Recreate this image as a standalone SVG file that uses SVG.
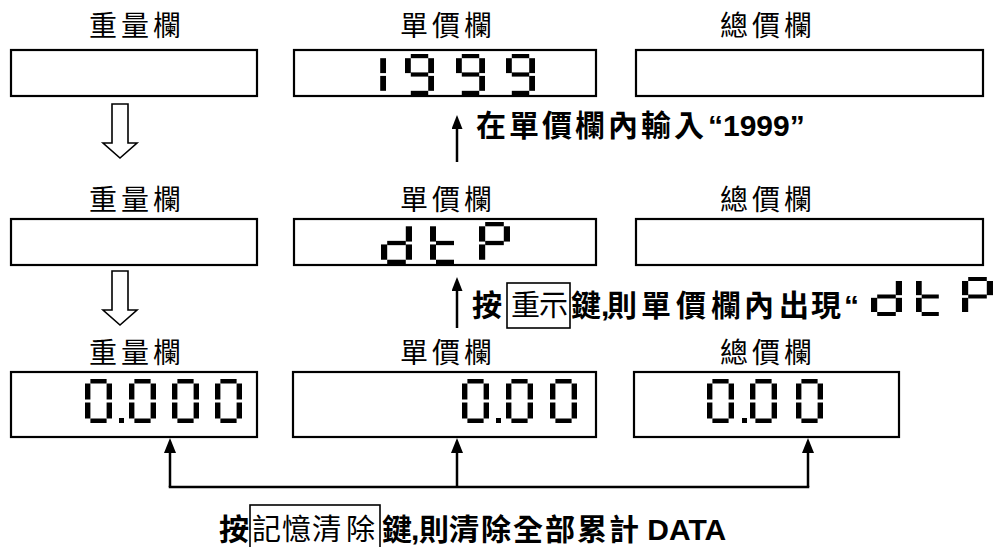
<svg xmlns="http://www.w3.org/2000/svg" xmlns:xlink="http://www.w3.org/1999/xlink" width="996" height="547" viewBox="0 0 996 547">
<style>
.box{fill:#fff;stroke:#000;stroke-width:2.2}
.kbox{fill:none;stroke:#000;stroke-width:1.6}
.lbl{font-family:"Noto Sans CJK TC","Noto Sans CJK SC",sans-serif;font-size:28px;fill:#000}
.ins{font-family:"Liberation Sans","Noto Sans CJK TC",sans-serif;font-weight:bold;font-size:30px;fill:#000}
.key{font-family:"Noto Sans CJK TC",sans-serif;font-size:29px;fill:#000}
.hol{fill:#fff;stroke:#000;stroke-width:1.6}
.con{stroke:#000;stroke-width:2.5;fill:none}
.seg{fill:#000}
</style>
<defs>
<marker id="ah" markerUnits="userSpaceOnUse" viewBox="0 0 14 11" refX="6" refY="5.5" markerWidth="14" markerHeight="11" orient="auto"><path d="M0,0 L14,5.5 L0,11 Z" fill="#000"/></marker>
<marker id="ah2" markerUnits="userSpaceOnUse" viewBox="0 0 15 12" refX="7" refY="6" markerWidth="15" markerHeight="12" orient="auto"><path d="M0,0 L15,6 L0,12 Z" fill="#000"/></marker>
<g id="sa"><rect x="6" y="0" width="18" height="4.5"/></g>
<g id="sb"><rect x="24" y="4.5" width="6" height="16"/></g>
<g id="sc"><rect x="24" y="23.5" width="6" height="16"/></g>
<g id="sd"><rect x="6" y="39.5" width="18" height="4.5"/></g>
<g id="se"><rect x="0" y="23.5" width="6" height="16"/></g>
<g id="sf"><rect x="0" y="4.5" width="6" height="16"/></g>
<g id="sg"><rect x="6" y="19.75" width="18" height="4.5"/></g>
<g id="g0"><use xlink:href="#sa"/><use xlink:href="#sb"/><use xlink:href="#sc"/><use xlink:href="#sd"/><use xlink:href="#se"/><use xlink:href="#sf"/></g>
<g id="g1"><use xlink:href="#sb"/><use xlink:href="#sc"/></g>
<g id="g9"><use xlink:href="#sa"/><use xlink:href="#sb"/><use xlink:href="#sc"/><use xlink:href="#sd"/><use xlink:href="#sf"/><use xlink:href="#sg"/></g>
<g id="gd"><use xlink:href="#sb"/><use xlink:href="#sc"/><use xlink:href="#sd"/><use xlink:href="#se"/><use xlink:href="#sg"/></g>
<g id="gt"><use xlink:href="#sd"/><use xlink:href="#se"/><use xlink:href="#sf"/><use xlink:href="#sg"/></g>
<g id="gP"><use xlink:href="#sa"/><use xlink:href="#sb"/><use xlink:href="#se"/><use xlink:href="#sf"/><use xlink:href="#sg"/></g>
</defs>
<rect width="996" height="547" fill="#fff"/>

<!-- Row 1 -->
<g id="r1-weight">
<text class="lbl" x="89 121 153" y="36">重量欄</text>
<rect class="box" x="11" y="50" width="246" height="46"/>
</g>
<g id="r1-unit">
<text class="lbl" x="400 432 464" y="36">單價欄</text>
<rect class="box" x="294" y="50" width="302" height="46"/>
<g class="seg">
<use xlink:href="#g1" transform="translate(357,54) scale(0.967,0.932)"/>
<use xlink:href="#g9" transform="translate(405,54) scale(0.967,0.932)"/>
<use xlink:href="#g9" transform="translate(456,54) scale(0.967,0.932)"/>
<use xlink:href="#g9" transform="translate(506,54) scale(0.967,0.932)"/>
</g>
</g>
<g id="r1-total">
<text class="lbl" x="720 752 784" y="36">總價欄</text>
<rect class="box" x="636" y="50" width="347" height="46"/>
</g>

<!-- Row 2 -->
<g id="r2-weight">
<text class="lbl" x="89 121 153" y="210">重量欄</text>
<rect class="box" x="11" y="219" width="246" height="46"/>
</g>
<g id="r2-unit">
<text class="lbl" x="400 432 464" y="210">單價欄</text>
<rect class="box" x="294" y="219" width="302" height="46"/>
<g class="seg">
<use xlink:href="#gd" transform="translate(381,222) scale(1.033,0.955)"/>
<use xlink:href="#gt" transform="translate(430,222) scale(1.0,0.955)"/>
<use xlink:href="#gP" transform="translate(479,222) scale(1.033,0.955)"/>
</g>
</g>
<g id="r2-total">
<text class="lbl" x="720 752 784" y="210">總價欄</text>
<rect class="box" x="636" y="219" width="347" height="46"/>
</g>

<!-- Row 3 -->
<g id="r3-weight">
<text class="lbl" x="89 121 153" y="363">重量欄</text>
<rect class="box" x="11" y="372" width="246" height="65"/>
<g class="seg">
<use xlink:href="#g0" transform="translate(85,379) scale(0.9,1)"/>
<rect x="119" y="418" width="5" height="5"/>
<use xlink:href="#g0" transform="translate(129,379) scale(0.9,1)"/>
<use xlink:href="#g0" transform="translate(172,379) scale(0.9,1)"/>
<use xlink:href="#g0" transform="translate(215,379) scale(0.9,1)"/>
</g>
</g>
<g id="r3-unit">
<text class="lbl" x="400 432 464" y="363">單價欄</text>
<rect class="box" x="293" y="372" width="303" height="65"/>
<g class="seg">
<use xlink:href="#g0" transform="translate(462,379) scale(0.9,1)"/>
<rect x="496" y="418" width="5" height="5"/>
<use xlink:href="#g0" transform="translate(506,379) scale(0.9,1)"/>
<use xlink:href="#g0" transform="translate(550,379) scale(0.9,1)"/>
</g>
</g>
<g id="r3-total">
<text class="lbl" x="720 752 784" y="363">總價欄</text>
<rect class="box" x="634" y="372" width="265" height="65"/>
<g class="seg">
<use xlink:href="#g0" transform="translate(707,379) scale(0.9,1)"/>
<rect x="742" y="418" width="5" height="5"/>
<use xlink:href="#g0" transform="translate(750,379) scale(0.9,1)"/>
<use xlink:href="#g0" transform="translate(796,379) scale(0.9,1)"/>
</g>
</g>

<!-- Instructions -->
<g id="note1">
<text class="ins" x="476 509 542 575 608 641 674 708" y="136">在單價欄內輸入“1999”</text>
</g>
<g id="note2">
<text class="ins" x="472" y="316">按</text>
<rect class="kbox" x="507" y="283" width="63" height="45"/>
<text class="key" x="511 539" y="316">重示</text>
<text class="ins" x="571 601 607 641 676 711 744 779 811 844" y="316">鍵,則單價欄內出現“</text>
<g class="seg">
<use xlink:href="#gd" transform="translate(871,277) scale(1.033,0.886)"/>
<use xlink:href="#gt" transform="translate(916,277) scale(0.95,0.886)"/>
<use xlink:href="#gP" transform="translate(962,277) scale(1.033,0.886)"/>
</g>
</g>
<g id="note3">
<text class="ins" x="219" y="540">按</text>
<rect class="kbox" x="250" y="505" width="130" height="50"/>
<text class="key" x="252 282 312 346" y="540">記憶清除</text>
<text class="ins" x="382 411 419 449 481 513 545 577 609" y="540">鍵,則清除全部累計 DATA</text>
</g>

<!-- Connectors -->
<g id="connectors">
<path class="hol" d="M112,104 H128 V143 H137 L120,158 L103,143 H112 Z"/>
<path class="hol" d="M112,271 H128 V310 H137 L120,325 L103,310 H112 Z"/>
<line class="con" x1="457" y1="162" x2="457" y2="123" marker-end="url(#ah)"/>
<line class="con" x1="457" y1="328" x2="457" y2="285" marker-end="url(#ah)"/>
<path class="con" d="M170,487 H808" stroke-linecap="square"/>
<line class="con" x1="170" y1="487" x2="170" y2="446" marker-end="url(#ah2)"/>
<line class="con" x1="457" y1="487" x2="457" y2="446" marker-end="url(#ah2)"/>
<line class="con" x1="808" y1="487" x2="808" y2="446" marker-end="url(#ah2)"/>
</g>
</svg>
